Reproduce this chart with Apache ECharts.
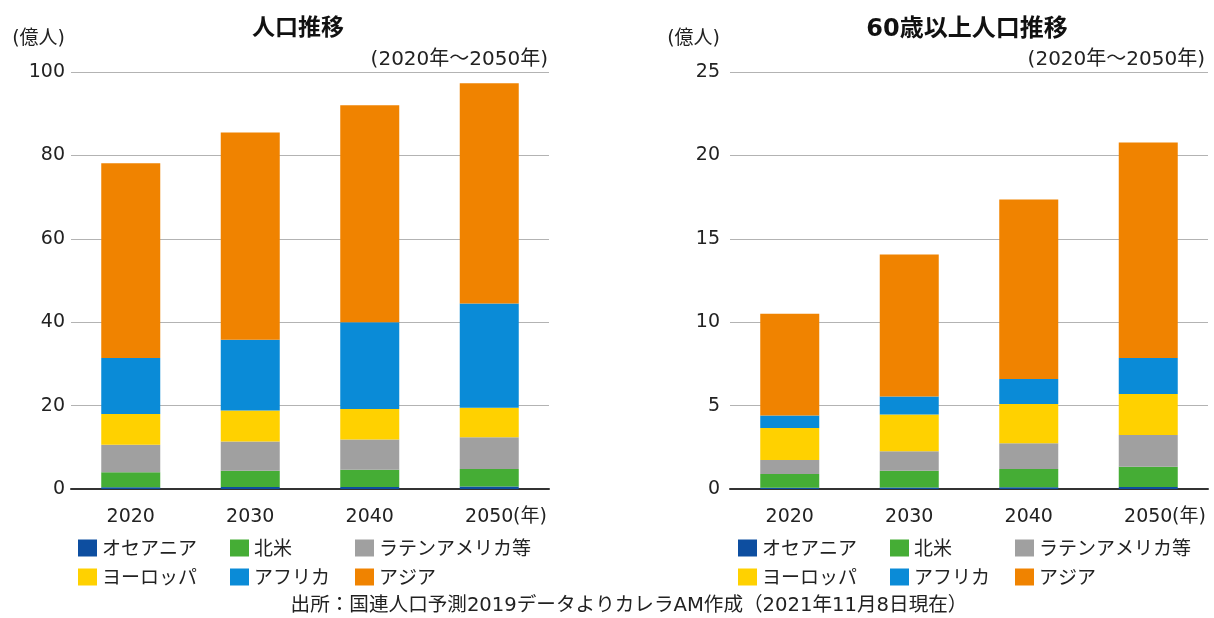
<!DOCTYPE html>
<html>
<head>
<meta charset="utf-8">
<script src="https://cdn.jsdelivr.net/npm/echarts@6/dist/echarts.min.js"></script>
<style>
  html, body { margin: 0; padding: 0; background: #fff; }
  #chart { width: 1214px; height: 618px; }
</style>
</head>
<body>
<div id="chart"></div>
<script>
const years = ['2020', '2030', '2040', '2050']
const regions = ['オセアニア', '北米', 'ラテンアメリカ等', 'ヨーロッパ', 'アフリカ', 'アジア']
const colors = ['#0d4ea0', '#45ad35', '#a0a0a0', '#ffd100', '#0a8bd7', '#f08300']

// 人口推移 (億人)
const popOceania = [0.4, 0.5, 0.5, 0.6]
const popNorthAmerica = [3.6, 3.9, 4.1, 4.2]
const popLatinAmerica = [6.6, 7.0, 7.3, 7.6]
const popEurope = [7.4, 7.4, 7.3, 7.1]
const popAfrica = [13.4, 17.0, 20.8, 25.0]
const popAsia = [46.7, 49.7, 52.0, 52.8]

// 60歳以上人口推移 (億人)
const oldOceania = [0.07, 0.09, 0.1, 0.12]
const oldNorthAmerica = [0.83, 1.01, 1.1, 1.22]
const oldLatinAmerica = [0.84, 1.16, 1.54, 1.9]
const oldEurope = [1.92, 2.2, 2.36, 2.46]
const oldAfrica = [0.74, 1.08, 1.5, 2.16]
const oldAsia = [6.1, 8.52, 10.76, 12.92]

const popData = [popOceania, popNorthAmerica, popLatinAmerica, popEurope, popAfrica, popAsia]
const oldData = [oldOceania, oldNorthAmerica, oldLatinAmerica, oldEurope, oldAfrica, oldAsia]

const font = "'DejaVu Sans', 'Noto Sans CJK JP'"
const jpFont = "'Noto Sans CJK JP'"
const textColor = '#222'

function makeSeries (data, idx, stack) {
  return data.map((values, i) => ({
    name: regions[i],
    type: 'bar',
    stack: stack,
    xAxisIndex: idx,
    yAxisIndex: idx,
    barWidth: 59,
    itemStyle: { color: colors[i] },
    data: values
  }))
}

function xAxis (gridIndex) {
  return {
    type: 'category',
    gridIndex: gridIndex,
    data: years,
    name: '(年)',
    nameLocation: 'end',
    nameGap: -36,
    nameMoveOverlap: false,
    nameTextStyle: {
      fontFamily: font, fontSize: 19, color: textColor,
      align: 'left', verticalAlign: 'top', padding: [19, 0, 0, 0]
    },
    axisTick: { show: false },
    axisLine: { lineStyle: { color: '#333', width: 2 } },
    axisLabel: { margin: 19, fontFamily: font, fontSize: 19, color: textColor }
  }
}

function yAxis (gridIndex, max, interval, margin, padRight) {
  return {
    type: 'value',
    gridIndex: gridIndex,
    min: 0,
    max: max,
    interval: interval,
    name: '(億人)',
    nameGap: 23,
    nameTextStyle: {
      fontFamily: font, fontSize: 19, color: textColor,
      align: 'right', padding: [0, padRight, 0, 0]
    },
    axisLine: { show: false },
    axisTick: { show: false },
    axisLabel: { margin: margin, fontFamily: font, fontSize: 19, color: textColor },
    splitLine: { lineStyle: { color: '#b3b3b3', width: 1.2 } }
  }
}

function legendCol (left, names) {
  return {
    left: left,
    top: 538,
    orient: 'vertical',
    padding: 0,
    itemGap: 9,
    itemWidth: 19,
    itemHeight: 17,
    icon: 'rect',
    selectedMode: false,
    textStyle: { fontFamily: jpFont, fontSize: 19, color: textColor, lineHeight: 20 },
    data: names
  }
}

const chart = echarts.init(document.getElementById('chart'))
chart.setOption({
  animation: false,
  title: [
    { text: '人口推移', left: 298, top: 18, textAlign: 'center', padding: 0,
      textStyle: { fontFamily: font, fontSize: 23, fontWeight: 'bold', color: '#111' } },
    { text: '60歳以上人口推移', left: 967, top: 18, textAlign: 'center', padding: 0,
      textStyle: { fontFamily: font, fontSize: 24, fontWeight: 'bold', color: '#111' } },
    { text: '(2020年〜2050年)', right: 666, top: 50, padding: 0,
      textStyle: { fontFamily: font, fontSize: 20, fontWeight: 'normal', color: textColor } },
    { text: '(2020年〜2050年)', right: 9, top: 50, padding: 0,
      textStyle: { fontFamily: font, fontSize: 20, fontWeight: 'normal', color: textColor } },
    { text: '出所：国連人口予測2019データよりカレラAM作成（2021年11月8日現在）', left: 629, top: 596, textAlign: 'center', padding: 0,
      textStyle: { fontFamily: font, fontSize: 19.6, fontWeight: 'normal', color: textColor } }
  ],
  legend: [
    legendCol(78, ['オセアニア', 'ヨーロッパ']),
    legendCol(230, ['北米', 'アフリカ']),
    legendCol(355, ['ラテンアメリカ等', 'アジア']),
    legendCol(738, ['オセアニア', 'ヨーロッパ']),
    legendCol(890, ['北米', 'アフリカ']),
    legendCol(1015, ['ラテンアメリカ等', 'アジア'])
  ],
  grid: [
    { left: 71, top: 72, width: 478, height: 417 },
    { left: 730, top: 72, width: 478, height: 417 }
  ],
  xAxis: [xAxis(0), xAxis(1)],
  yAxis: [yAxis(0, 100, 20, 6, 6), yAxis(1, 25, 5, 10, 10)],
  series: makeSeries(popData, 0, 'pop').concat(makeSeries(oldData, 1, 'old'))
})
</script>
</body>
</html>
